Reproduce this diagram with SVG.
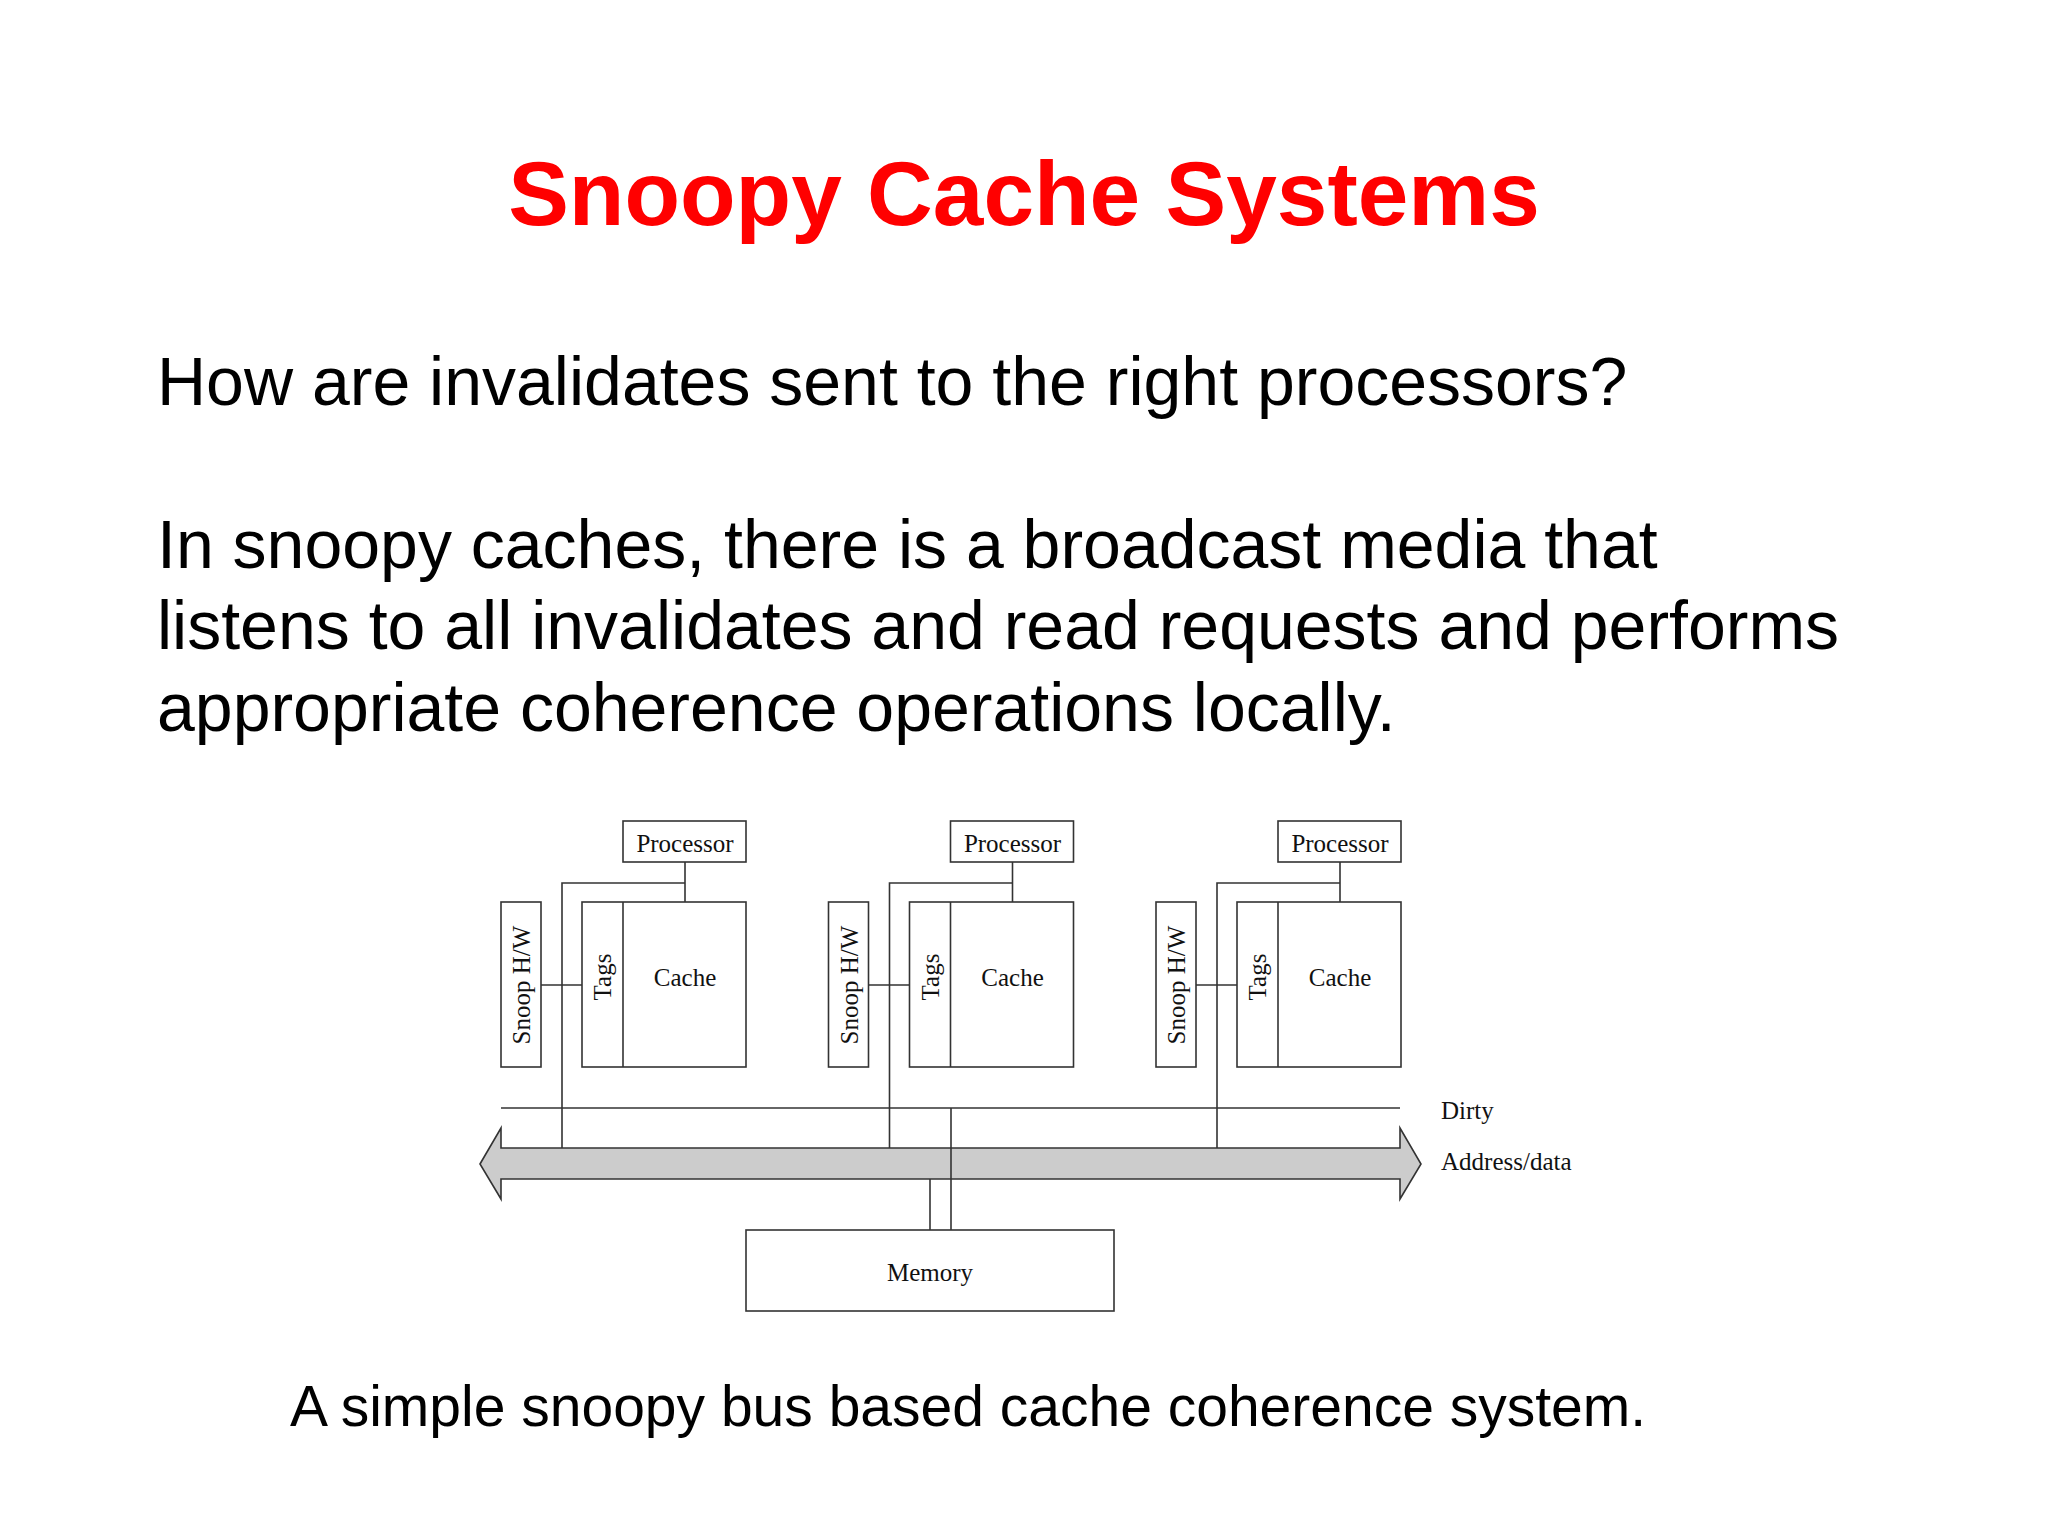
<svg xmlns="http://www.w3.org/2000/svg" width="2048" height="1536" viewBox="0 0 2048 1536">
<style>
.b{fill:#fff;stroke:#333;stroke-width:1.6}
.l{fill:none;stroke:#333;stroke-width:1.6}
.t{font-family:"Liberation Serif",serif;font-size:25px;fill:#111;text-anchor:middle}
.a{font-family:"Liberation Serif",serif;font-size:25px;fill:#111}
.s{font-family:"Liberation Sans",Arial,sans-serif;font-size:68px;fill:#000}
</style>
<rect width="2048" height="1536" fill="#fff"/>
<text x="1024" y="225" font-family="Liberation Sans,Arial,sans-serif" font-weight="bold" font-size="91" fill="#f00" text-anchor="middle">Snoopy Cache Systems</text>
<text class="s" x="157" y="405">How are invalidates sent to the right processors?</text>
<text class="s" x="157" y="568">In snoopy caches, there is a broadcast media that</text>
<text class="s" x="157" y="649">listens to all invalidates and read requests and performs</text>
<text class="s" x="157" y="731">appropriate coherence operations locally.</text>
<text class="s" x="290" y="1426" style="font-size:57px">A simple snoopy bus based cache coherence system.</text>
<g id="bus">
<polygon points="480,1164 501,1128 501,1148 1400,1148 1400,1128 1421,1164 1400,1199 1400,1179 501,1179 501,1199" fill="#cccccc" stroke="#333" stroke-width="1.6"/>
</g>
<g id="connectors">
<line class="l" x1="501" y1="1108" x2="1400" y2="1108"/>
<line class="l" x1="930" y1="1179" x2="930" y2="1230"/>
<line class="l" x1="951" y1="1108" x2="951" y2="1230"/>
<path class="l" d="M685,862V902M685,883H562V1148M541,985H582"/>
<path class="l" transform="translate(327.5,0)" d="M685,862V902M685,883H562V1148M541,985H582"/>
<path class="l" transform="translate(655,0)" d="M685,862V902M685,883H562V1148M541,985H582"/>
</g>
<g id="unit1">
<rect class="b" x="623" y="821" width="123" height="41"/><text class="t" x="685" y="852">Processor</text>
<rect class="b" x="582" y="902" width="164" height="165"/><line class="l" x1="623" y1="902" x2="623" y2="1067"/>
<text class="t" x="685" y="986">Cache</text>
<text class="t" transform="translate(611,977) rotate(-90)">Tags</text>
<rect class="b" x="501" y="902" width="40" height="165"/>
<text class="t" transform="translate(530,985) rotate(-90)">Snoop H/W</text>
</g>
<g id="unit2" transform="translate(327.5,0)">
<rect class="b" x="623" y="821" width="123" height="41"/><text class="t" x="685" y="852">Processor</text>
<rect class="b" x="582" y="902" width="164" height="165"/><line class="l" x1="623" y1="902" x2="623" y2="1067"/>
<text class="t" x="685" y="986">Cache</text>
<text class="t" transform="translate(611,977) rotate(-90)">Tags</text>
<rect class="b" x="501" y="902" width="40" height="165"/>
<text class="t" transform="translate(530,985) rotate(-90)">Snoop H/W</text>
</g>
<g id="unit3" transform="translate(655,0)">
<rect class="b" x="623" y="821" width="123" height="41"/><text class="t" x="685" y="852">Processor</text>
<rect class="b" x="582" y="902" width="164" height="165"/><line class="l" x1="623" y1="902" x2="623" y2="1067"/>
<text class="t" x="685" y="986">Cache</text>
<text class="t" transform="translate(611,977) rotate(-90)">Tags</text>
<rect class="b" x="501" y="902" width="40" height="165"/>
<text class="t" transform="translate(530,985) rotate(-90)">Snoop H/W</text>
</g>
<g id="memory">
<rect class="b" x="746" y="1230" width="368" height="81"/>
<text class="t" x="930" y="1281">Memory</text>
</g>
<text class="a" x="1441" y="1119">Dirty</text>
<text class="a" x="1441" y="1170">Address/data</text>
</svg>
